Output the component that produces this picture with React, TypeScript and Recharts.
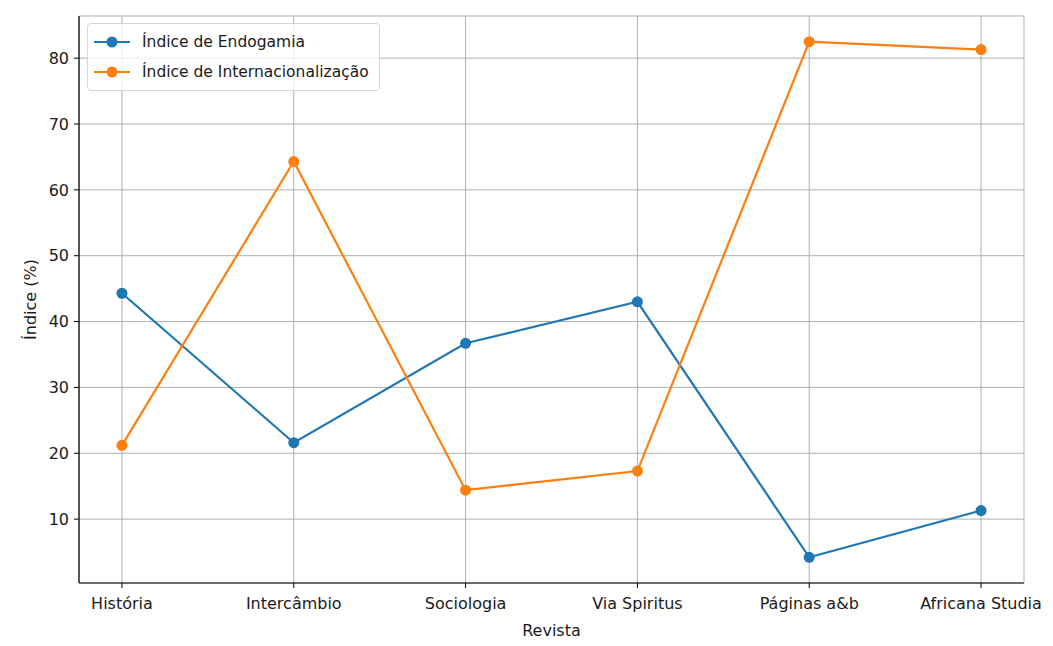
import { CartesianGrid, Label, Line, LineChart, XAxis, YAxis } from 'recharts';

const revistas = ['História', 'Intercâmbio', 'Sociologia', 'Via Spiritus', 'Páginas a&b', 'Africana Studia'];
const endogamia = [44.3, 21.6, 36.7, 43.0, 4.2, 11.3];
const internacionalizacao = [21.2, 64.3, 14.4, 17.3, 82.5, 81.3];
const yTicks = [10, 20, 30, 40, 50, 60, 70, 80];

const BLUE = '#1f77b4';
const ORANGE = '#ff7f0e';
const FONT = '"DejaVu Sans", sans-serif';

const data = revistas.map((nome, i) => ({
  i,
  nome,
  endogamia: endogamia[i],
  internacionalizacao: internacionalizacao[i],
}));

const legendItems = [
  { label: 'Índice de Endogamia', color: BLUE },
  { label: 'Índice de Internacionalização', color: ORANGE },
];

// legend drawn over the plot, like matplotlib's "upper left"
function LegendBox() {
  return (
    <div
      style={{
        position: 'absolute',
        left: 87,
        top: 23,
        background: 'rgba(255,255,255,0.8)',
        border: '1px solid #d6d6d6',
        borderRadius: 4,
        padding: '3px 10px 3px 6px',
        fontFamily: FONT,
        fontSize: 15.5,
        color: '#1a1a1a',
      }}
    >
      {legendItems.map((it) => (
        <div key={it.label} style={{ display: 'flex', alignItems: 'center', height: 30 }}>
          <svg width={36} height={14} style={{ marginRight: 12 }}>
            <line x1={0} y1={7} x2={36} y2={7} stroke={it.color} strokeWidth={2.2} />
            <circle cx={18} cy={7} r={5.5} fill={it.color} />
          </svg>
          <span>{it.label}</span>
        </div>
      ))}
    </div>
  );
}

export default function App() {
  return (
    <div style={{ position: 'relative', width: 1053, height: 646, margin: -8, background: '#fff' }}>
      <div style={{ position: 'absolute', left: 0, top: 0 }}>
        <LineChart
          width={1053}
          height={646}
          data={data}
          margin={{ top: 16, right: 29, bottom: 5, left: 20 }}
          style={{ fontFamily: FONT }}
        >
          <CartesianGrid stroke="#b0b0b0" strokeWidth={1} vertical horizontal />
          <XAxis
            dataKey="i"
            type="number"
            domain={[-0.25, 5.25]}
            ticks={[0, 1, 2, 3, 4, 5]}
            tickFormatter={(v: number) => revistas[v]}
            allowDataOverflow
            height={58}
            tickSize={5}
            tickMargin={10}
            axisLine={{ stroke: '#000', strokeWidth: 1.2 }}
            tickLine={{ stroke: '#000' }}
            tick={{ fill: '#1a1a1a', fontSize: 16 }}
            interval={0}
          >
            <Label value="Revista" position="insideBottom" offset={5} style={{ fill: '#1a1a1a', fontSize: 16 }} />
          </XAxis>
          <XAxis
            xAxisId="top"
            orientation="top"
            dataKey="i"
            type="number"
            domain={[-0.25, 5.25]}
            height={0}
            tick={false}
            tickLine={false}
            axisLine={{ stroke: '#000', strokeWidth: 1.2 }}
          />
          <YAxis
            type="number"
            domain={[0.3, 86.4]}
            ticks={yTicks}
            allowDataOverflow
            width={59}
            tickSize={5}
            tickMargin={5}
            axisLine={{ stroke: '#000', strokeWidth: 1.2 }}
            tickLine={{ stroke: '#000' }}
            tick={{ fill: '#1a1a1a', fontSize: 16 }}
          >
            <Label
              value="Índice (%)"
              angle={-90}
              position="insideLeft"
              offset={10}
              style={{ textAnchor: 'middle', fill: '#1a1a1a', fontSize: 16 }}
            />
          </YAxis>
          <YAxis
            yAxisId="right"
            orientation="right"
            domain={[0.3, 86.4]}
            width={0}
            tick={false}
            tickLine={false}
            axisLine={{ stroke: '#000', strokeWidth: 1.2 }}
          />
          <Line
            dataKey="endogamia"
            stroke={BLUE}
            strokeWidth={2.2}
            dot={{ r: 5.5, fill: BLUE, stroke: BLUE, strokeWidth: 0 }}
            activeDot={false}
            isAnimationActive={false}
          />
          <Line
            dataKey="internacionalizacao"
            stroke={ORANGE}
            strokeWidth={2.2}
            dot={{ r: 5.5, fill: ORANGE, stroke: ORANGE, strokeWidth: 0 }}
            activeDot={false}
            isAnimationActive={false}
          />
        </LineChart>
      </div>
      <LegendBox />
      <div style={{ position: 'absolute', left: 6, top: 6, width: 2, height: 640, background: '#cfcfcf' }} />
      <div style={{ position: 'absolute', left: 6, top: 6, width: 1047, height: 2, background: '#cfcfcf' }} />
    </div>
  );
}
